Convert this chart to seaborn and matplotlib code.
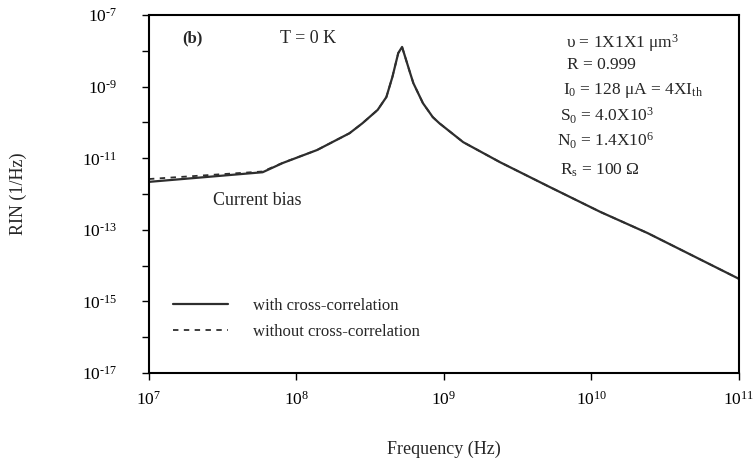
import numpy as np
import pandas as pd
import matplotlib
matplotlib.use("Agg")
import matplotlib.pyplot as plt
import matplotlib.ticker as mticker
import seaborn as sns

# Relative intensity noise spectrum, current-biased laser at T = 0 K
freq_hz = [1.0e7, 5.9e7, 8.1e7, 1.38e8, 2.29e8, 2.8e8, 3.55e8, 4.07e8, 4.47e8,
           4.9e8, 5.2e8, 5.9e8, 6.2e8, 7.2e8, 8.4e8, 9.3e8, 1.35e9, 2.4e9,
           5.2e9, 1.15e10, 2.4e10, 1.0e11]
rin_with = [2.19e-12, 4.07e-12, 7.41e-12, 1.70e-11, 5.01e-11, 9.5e-11, 2.24e-10,
            5.13e-10, 1.86e-9, 8.71e-9, 1.29e-8, 2.40e-9, 1.26e-9, 3.47e-10,
            1.41e-10, 9.55e-11, 2.82e-11, 7.76e-12, 1.58e-12, 3.16e-13,
            8.13e-14, 4.27e-15]
rin_without = [2.63e-12, 4.27e-12, 7.50e-12, 1.70e-11, 5.01e-11, 9.5e-11, 2.24e-10,
               5.13e-10, 1.86e-9, 8.71e-9, 1.29e-8, 2.40e-9, 1.26e-9, 3.47e-10,
               1.41e-10, 9.55e-11, 2.82e-11, 7.76e-12, 1.58e-12, 3.16e-13,
               8.13e-14, 4.27e-15]

series_labels = ["with cross-correlation", "without cross-correlation"]
x_ticks = [1e7, 1e8, 1e9, 1e10, 1e11]
y_major = [1e-17, 1e-15, 1e-13, 1e-11, 1e-9, 1e-7]
y_minor = [1e-16, 1e-14, 1e-12, 1e-10, 1e-8]

sns.set_style("ticks")
plt.rcParams["font.family"] = ["Liberation Serif", "DejaVu Serif"]
plt.rcParams["mathtext.fontset"] = "custom"
plt.rcParams["mathtext.rm"] = "Liberation Serif"
plt.rcParams["mathtext.it"] = "Liberation Serif:italic"
plt.rcParams["mathtext.bf"] = "Liberation Serif:bold"

df_with = pd.DataFrame({"f": freq_hz, "rin": rin_with})
df_without = pd.DataFrame({"f": freq_hz, "rin": rin_without})

fig = plt.figure(figsize=(7.56, 4.58), dpi=100)
ax = fig.add_axes([0.197, 0.1856, 0.7805, 0.7814])

curve_color = "#2e2e2e"
sns.lineplot(data=df_without, x="f", y="rin", ax=ax, color=curve_color,
             linewidth=1.3, linestyle=(0, (3, 3)), label=series_labels[1],
             estimator=None, sort=False)
sns.lineplot(data=df_with, x="f", y="rin", ax=ax, color=curve_color,
             linewidth=1.6, label=series_labels[0], estimator=None, sort=False)

ax.set_xscale("log")
ax.set_yscale("log")
ax.set_xlim(1e7, 1e11)
ax.set_ylim(1e-17, 1e-7)


def power_label(v, pos=None):
    e = int(round(np.log10(v)))
    sign = "\u2010" if e < 0 else ""
    return "10$^{%s%d}$" % (sign, abs(e))


ax.xaxis.set_major_locator(mticker.FixedLocator(x_ticks))
ax.xaxis.set_minor_locator(mticker.NullLocator())
ax.xaxis.set_major_formatter(mticker.FuncFormatter(power_label))
ax.yaxis.set_major_locator(mticker.FixedLocator(y_major))
ax.yaxis.set_minor_locator(mticker.FixedLocator(y_minor))
ax.yaxis.set_major_formatter(mticker.FuncFormatter(power_label))
ax.yaxis.set_minor_formatter(mticker.NullFormatter())

ax.tick_params(axis="both", which="both", direction="out", length=5,
               width=1.0, colors="black", labelsize=12.5)
ax.tick_params(axis="x", pad=8)
ax.tick_params(axis="y", pad=18)
for sp in ax.spines.values():
    sp.set_visible(True)
    sp.set_linewidth(1.5)
    sp.set_color("black")

ax.set_xlabel("Frequency (Hz)", fontsize=13)
ax.set_ylabel("RIN (1/Hz)", fontsize=13)
ax.xaxis.set_label_coords(0.5, -0.19)
ax.yaxis.set_label_coords(-0.207, 0.5)

handles, labels = ax.get_legend_handles_labels()
order = [labels.index(series_labels[0]), labels.index(series_labels[1])]
ax.legend([handles[i] for i in order], [labels[i] for i in order],
          loc="upper left", bbox_to_anchor=(0.04, 0.21), frameon=False,
          fontsize=12, handlelength=3.3, handletextpad=1.5,
          labelspacing=0.6, borderpad=0, borderaxespad=0)

fs = 13
ax.text(0.056, 0.936, "(b)", transform=ax.transAxes, fontsize=12,
        fontweight="bold", va="center", ha="left")
ax.text(0.222, 0.936, "T = 0 K", transform=ax.transAxes, fontsize=fs,
        va="center", ha="left")
ax.text(0.108, 0.483, "Current bias", transform=ax.transAxes, fontsize=fs,
        va="center", ha="left")

params = [
    (0.707, 0.922, "υ = 1X1X1 μm$^3$"),
    (0.708, 0.860, "R = 0.999"),
    (0.702, 0.790, "I$_0$ = 128 μA = 4XI$_{\\rm th}$"),
    (0.697, 0.718, "S$_0$ = 4.0X10$^3$"),
    (0.692, 0.648, "N$_0$ = 1.4X10$^6$"),
    (0.697, 0.567, "R$_{\\rm s}$ = 100 Ω"),
]
for px, py, txt in params:
    ax.text(px, py, txt, transform=ax.transAxes, fontsize=12.5,
            va="center", ha="left")

fig.savefig("out.png", dpi=100)
